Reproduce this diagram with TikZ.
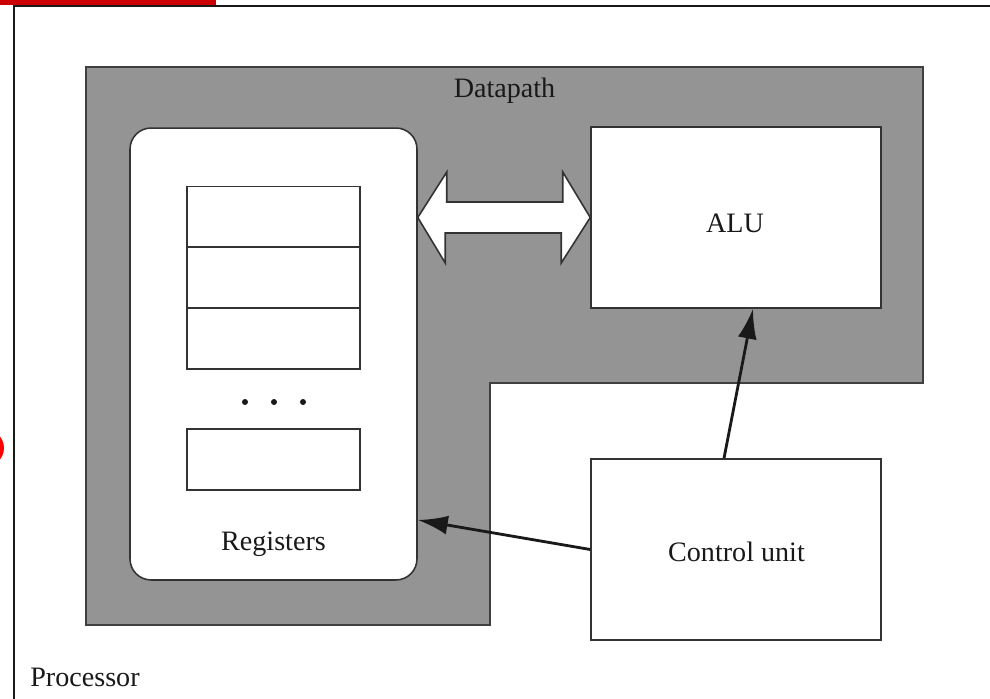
\documentclass[tikz,border=0pt]{standalone}
\usepackage{fontspec}
\setmainfont{Liberation Serif}
\usetikzlibrary{calc,arrows.meta}

\begin{document}
\begin{tikzpicture}[x=0.02cm,y=-0.02cm,
            box/.style={draw=black!80,line width=0.9pt,fill=white,minimum width=5.8cm,minimum height=3.62cm,inner sep=0pt},
            cell/.style={draw=black!80,line width=0.9pt,fill=white,minimum width=3.46cm,minimum height=1.22cm,inner sep=0pt},
            lbl/.style={font=\fontsize{16}{19}\selectfont,inner sep=0pt,anchor=base,text=black!90},
            dot/.style={circle,fill=black!90,inner sep=0pt,minimum size=0.12cm},
            ptr/.style={draw=black!90,line width=1.6pt,-{Latex[length=0.6cm,width=0.38cm]}}]
            \useasboundingbox (0,0) rectangle (990,699);
            
            % leftovers of the page round the figure
            \fill[red!80!black] (0,0) rectangle (216,5);
            \fill[red] (-14,448) circle (18);
            
            % processor frame
            \draw[black!90,line width=1.6pt] (14,720) -- (14,6) -- (1010,6);
            \node[lbl] (P) at (85,686) {Processor};
            
            % datapath
            \draw[fill=black!42,draw=black!75,line width=1pt]
            (86,67) -- (923,67) -- (923,383) -- (490,383) -- (490,625) -- (86,625) -- cycle;
            \node[lbl] (DP) at (504.5,98) {Datapath};
            
            \node[draw=black!80,line width=0.9pt,fill=white,rounded corners=0.42cm,
                  minimum width=5.74cm,minimum height=9.04cm] (REG) at (273.5,354) {};
            \node[cell] (R1) at (273.5,217) {};
            \node[cell] (R2) at (273.5,277.5) {};
            \node[cell] (R3) at (273.5,338.5) {};
            \node[cell] (RN) at (273.5,459.5) {};
            \node[dot] (D1) at (245,402) {};
            \node[dot] (D2) at (274,402) {};
            \node[dot] (D3) at (303,402) {};
            \node[lbl] (REGL) at (273.5,550) {Registers};
            
            \node[box] (ALU) at (736,217.5) {};
            \node[lbl] (ALUL) at (735,233) {ALU};
            
            \node[box] (CU) at (736,549.5) {};
            \node[lbl] (CUL) at (736.5,561) {Control unit};
            
            % bus between registers and ALU
            \draw[fill=white,draw=black!80,line width=0.9pt]
            (REG.east |- ALU.west) -- ++(29,-45.5) -- ++(0,30) -- ++(116,0) -- ++(0,-30)
            -- (ALU.west) -- ++(-29,45.5) -- ++(0,-30) -- ++(-116,0) -- ++(0,30) -- cycle;
            
            \path
            ([xshift=-0.24cm]CU.north) edge[ptr] ([xshift=0.34cm]ALU.south)
            (CU.west) edge[ptr] ([yshift=-3.32cm]REG.east);
\end{tikzpicture}
\end{document}
